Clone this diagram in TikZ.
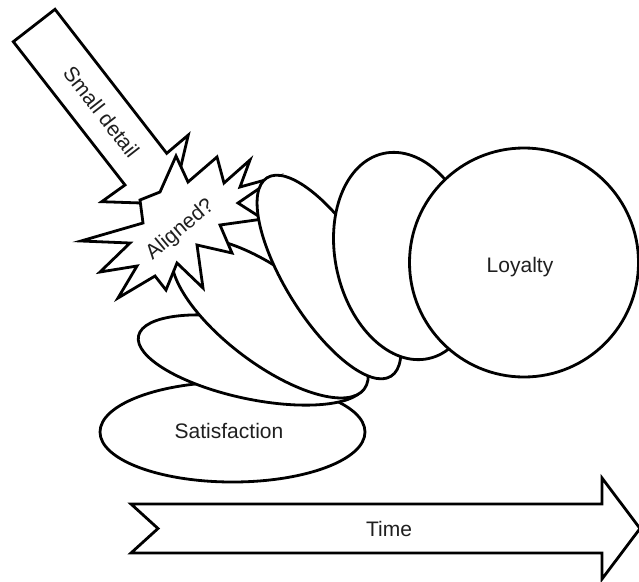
\documentclass[tikz,border=0pt]{standalone}
\usepackage{fontspec}
\setmainfont{Liberation Sans}
\begin{document}
\begin{tikzpicture}[x=1pt,y=-1pt,
  shp/.style={draw=black,line width=2.8pt,fill=white,line join=miter},
  lbl/.style={font=\fontsize{21}{25}\selectfont,text=black!88,inner sep=0pt,text height=15pt,text depth=0pt}]
\useasboundingbox (0,0) rectangle (639,581);
% satisfaction ellipse
\draw[shp] (232.5,432) ellipse [x radius=132.5pt, y radius=50pt];
% intermediate ellipses
\draw[shp, rotate around={-12:(252,360)}] (252,360) ellipse [x radius=116pt, y radius=39pt];
\draw[shp, rotate around={-37:(270,318)}] (270,318) ellipse [x radius=118pt, y radius=46pt];
% small detail arrow
\draw[shp] (13.3,41.7) -- (125,185) -- (101.7,201.7) -- (172,204) -- (188.3,135) -- (166.7,153.3) -- (55,9.3) -- cycle;
% starburst
\draw[shp] (176,156) -- (188,182) -- (217,157) -- (224,183) -- (250,160) -- (240,187) -- (276,177) -- (238,203) -- (263,219) -- (220,225) -- (232,253) -- (197,245) -- (203,288) -- (177,263) -- (166,290) -- (155,276) -- (118,298) -- (137,266) -- (100,272) -- (130,243) -- (81,241) -- (143,223) -- (140,200) -- (160,192) -- cycle;
% more ellipses
\draw[shp, rotate around={-58:(329,277)}] (329,277) ellipse [x radius=117pt, y radius=43pt];
\draw[shp, rotate around={12.5:(406,256)}] (406,256) ellipse [x radius=70.5pt, y radius=105pt];
\draw[shp] (524,262.5) circle [radius=114.5pt];
% time arrow
\draw[shp] (131,504) -- (602,504) -- (602,478) -- (640,528.5) -- (602,579) -- (602,553) -- (131,553) -- (158,528.5) -- cycle;
% labels
\node[lbl, rotate=-52] (small) at (101.4,112) {Small detail};
\node[lbl, rotate=40] (aligned) at (179,228) {Aligned?};
\node[lbl] (sat) at (229,431) {Satisfaction};
\node[lbl] (loy) at (520,264.5) {Loyalty};
\node[lbl] (time) at (389,529) {Time};
\end{tikzpicture}
\end{document}
